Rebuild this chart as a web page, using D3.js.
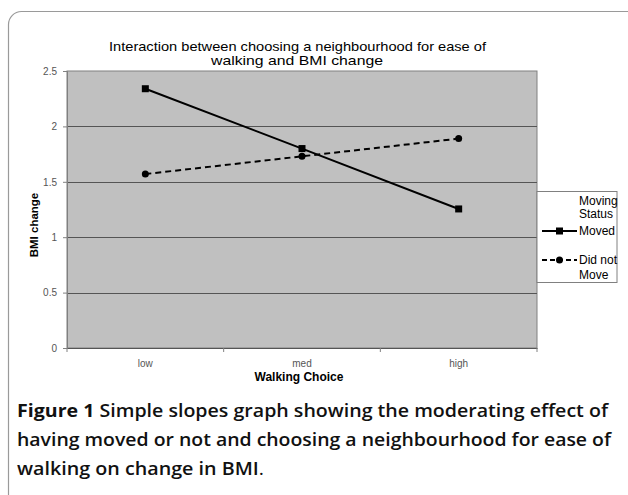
<!DOCTYPE html>
<html>
<head>
<meta charset="utf-8">
<script src="https://cdn.jsdelivr.net/npm/d3@7"></script>
<style>
  body { margin: 0; background: #fff; }
  svg { display: block; }
</style>
</head>
<body>
<div id="chart"></div>
<script>
var categories = ["low", "med", "high"];
var moved = [2.34, 1.80, 1.255];
var didNotMove = [1.57, 1.73, 1.89];
var yTicks = [0, 0.5, 1, 1.5, 2, 2.5];

var width = 628, height = 495;
var plot = {left: 67, top: 71, right: 537, bottom: 348};

var svg = d3.select('#chart').append('svg')
  .attr('width', width)
  .attr('height', height);

// outer rounded frame (cropped on the right and bottom)
svg.append('rect')
  .attr('x', 8.5).attr('y', 11.5)
  .attr('width', 640).attr('height', 500)
  .attr('rx', 13)
  .attr('fill', 'none')
  .attr('stroke', '#9a9a9a')
  .attr('stroke-width', 1.2);

var xScale = d3.scaleBand()
  .domain(categories)
  .range([plot.left, plot.right]);

var yScale = d3.scaleLinear()
  .domain([0, 2.5])
  .range([plot.bottom, plot.top]);

// plot background
svg.append('rect')
  .attr('x', plot.left).attr('y', plot.top)
  .attr('width', plot.right - plot.left)
  .attr('height', plot.bottom - plot.top)
  .attr('fill', '#c0c0c0')
  .attr('stroke', '#808080');

// gridlines
svg.append('g')
  .selectAll('line')
  .data(yTicks.filter(d => d > 0 && d < 2.5))
  .join('line')
    .attr('x1', plot.left).attr('x2', plot.right)
    .attr('y1', d => Math.round(yScale(d)) + 0.5)
    .attr('y2', d => Math.round(yScale(d)) + 0.5)
    .attr('stroke', '#555')
    .attr('stroke-width', 1);

var yAxis = d3.axisLeft(yScale)
  .tickValues(yTicks)
  .tickFormat(d => d)
  .tickSize(4)
  .tickPadding(6);

var gy = svg.append('g')
  .attr('transform', `translate(${plot.left},0)`)
  .call(yAxis);
gy.select('.domain').attr('stroke', '#808080');
gy.selectAll('.tick line').attr('stroke', '#808080');
gy.selectAll('text')
  .style('font-family', 'Liberation Sans, Arial, sans-serif')
  .style('font-size', '10px')
  .attr('fill', '#555');

var xAxis = d3.axisBottom(xScale)
  .tickSize(0)
  .tickPadding(12);

var gx = svg.append('g')
  .attr('transform', `translate(0,${plot.bottom})`)
  .call(xAxis);
gx.select('.domain').attr('stroke', '#555');
gx.selectAll('text')
  .style('font-family', 'Liberation Sans, Arial, sans-serif')
  .style('font-size', '10px')
  .attr('fill', '#555');

// tick marks between categories
var bounds = categories.map(c => xScale(c)).concat([plot.right]);
svg.append('g')
  .selectAll('line')
  .data(bounds)
  .join('line')
    .attr('x1', d => d).attr('x2', d => d)
    .attr('y1', plot.bottom).attr('y2', plot.bottom + 4)
    .attr('stroke', '#808080');

var cx = c => xScale(c) + xScale.bandwidth() / 2;

var line = d3.line()
  .x((d, i) => cx(categories[i]))
  .y(d => yScale(d));

svg.append('path')
  .datum(moved)
  .attr('d', line)
  .attr('fill', 'none')
  .attr('stroke', '#000')
  .attr('stroke-width', 2);

svg.append('path')
  .datum(didNotMove)
  .attr('d', line)
  .attr('fill', 'none')
  .attr('stroke', '#000')
  .attr('stroke-width', 2)
  .attr('stroke-dasharray', '6,4');

svg.append('g')
  .selectAll('rect')
  .data(moved)
  .join('rect')
    .attr('x', (d, i) => cx(categories[i]) - 3.5)
    .attr('y', d => yScale(d) - 3.5)
    .attr('width', 7).attr('height', 7)
    .attr('fill', '#000');

svg.append('g')
  .selectAll('circle')
  .data(didNotMove)
  .join('circle')
    .attr('cx', (d, i) => cx(categories[i]))
    .attr('cy', d => yScale(d))
    .attr('r', 3.5)
    .attr('fill', '#000');

// titles
var titleFont = 'Liberation Sans, Arial, sans-serif';
svg.append('text')
  .attr('x', 109).attr('y', 51)
  .attr('textLength', 377).attr('lengthAdjust', 'spacingAndGlyphs')
  .style('font-family', titleFont)
  .style('font-size', '13px')
  .text('Interaction between choosing a neighbourhood for ease of');
svg.append('text')
  .attr('x', 211).attr('y', 65)
  .attr('textLength', 172).attr('lengthAdjust', 'spacingAndGlyphs')
  .style('font-family', titleFont)
  .style('font-size', '13px')
  .text('walking and BMI change');

svg.append('text')
  .attr('x', 299).attr('y', 381)
  .attr('text-anchor', 'middle')
  .style('font-family', 'Liberation Sans, Arial, sans-serif')
  .style('font-size', '12px')
  .style('font-weight', 'bold')
  .text('Walking Choice');

svg.append('text')
  .attr('transform', 'translate(38,225) rotate(-90)')
  .attr('text-anchor', 'middle')
  .style('font-family', 'Liberation Sans, Arial, sans-serif')
  .style('font-size', '11.5px')
  .style('font-weight', 'bold')
  .text('BMI change');

// legend
var legend = svg.append('g')
  .style('font-family', 'Liberation Sans, Arial, sans-serif')
  .style('font-size', '12px');
legend.append('rect')
  .attr('x', plot.right).attr('y', 191.5)
  .attr('width', 80).attr('height', 91)
  .attr('fill', '#fff')
  .attr('stroke', '#808080');
legend.append('text').attr('x', 579).attr('y', 205).text('Moving');
legend.append('text').attr('x', 579).attr('y', 218).text('Status');

legend.append('line')
  .attr('x1', 542).attr('x2', 577).attr('y1', 231).attr('y2', 231)
  .attr('stroke', '#000').attr('stroke-width', 2);
legend.append('rect')
  .attr('x', 556).attr('y', 227.5).attr('width', 7).attr('height', 7)
  .attr('fill', '#000');
legend.append('text').attr('x', 579).attr('y', 235).text('Moved');

legend.append('line')
  .attr('x1', 542).attr('x2', 577).attr('y1', 260).attr('y2', 260)
  .attr('stroke', '#000').attr('stroke-width', 2)
  .attr('stroke-dasharray', '5,3');
legend.append('circle')
  .attr('cx', 559.5).attr('cy', 260).attr('r', 3.5)
  .attr('fill', '#000');
legend.append('text').attr('x', 579).attr('y', 264).text('Did not');
legend.append('text').attr('x', 579).attr('y', 279).text('Move');

// caption
var capFont = 'Open Sans, Noto Sans, sans-serif';
var cap = svg.append('g')
  .style('font-family', capFont)
  .style('font-size', '18px')
  .attr('fill', '#111');

var l1 = cap.append('text').attr('x', 17).attr('y', 417)
  .attr('textLength', 591).attr('lengthAdjust', 'spacingAndGlyphs');
l1.append('tspan').style('font-weight', 700).text('Figure 1');
l1.append('tspan').style('font-weight', 600).text(' Simple slopes graph showing the moderating effect of');

cap.append('text').attr('x', 17).attr('y', 446)
  .attr('textLength', 594).attr('lengthAdjust', 'spacingAndGlyphs')
  .style('font-weight', 600)
  .text('having moved or not and choosing a neighbourhood for ease of');

var l3 = cap.append('text').attr('x', 17).attr('y', 475)
  .attr('textLength', 247).attr('lengthAdjust', 'spacingAndGlyphs');
l3.append('tspan').style('font-weight', 600).text('walking on change in BMI');
l3.append('tspan').style('font-weight', 400).text('.');
</script>
</body>
</html>
